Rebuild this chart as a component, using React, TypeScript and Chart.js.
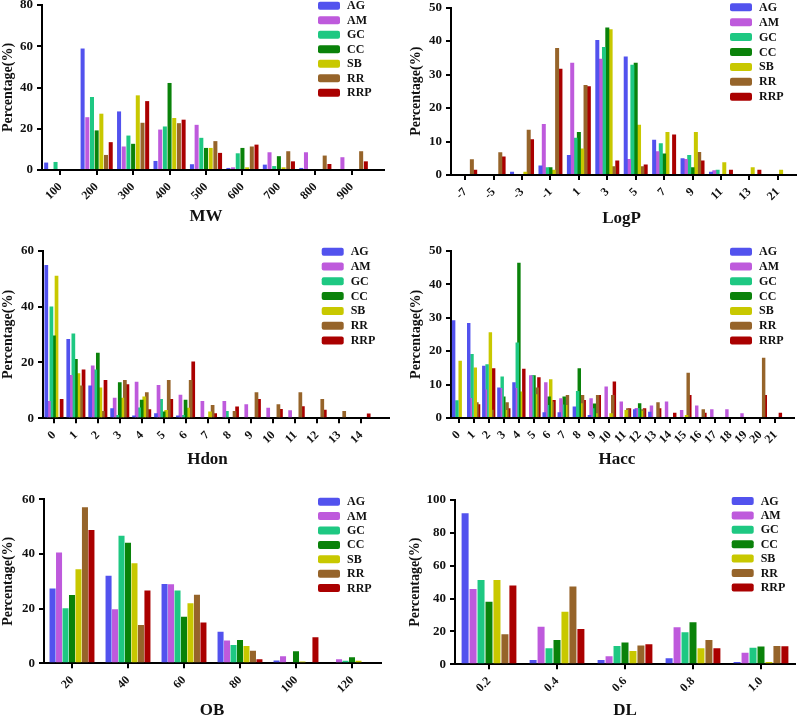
import React, { useEffect, useRef } from 'react';
import { Chart, registerables } from 'chart.js';

Chart.register(...registerables);

// ---------- Data ----------
const seriesNames = ['AG', 'AM', 'GC', 'CC', 'SB', 'RR', 'RRP'];
const seriesColors = ['#5252EE', '#BE5ADC', '#1EC882', '#0A820A', '#C8C800', '#96642A', '#AA0000'];

const mwLabels = ['100', '200', '300', '400', '500', '600', '700', '800', '900'];
const mwValues: number[][] = [
  /* AG  */ [3.6, 58.9, 28.4, 4.4, 2.8, 1.0, 2.6, 1.0, 0],
  /* AM  */ [0, 25.6, 11.4, 19.6, 21.9, 1.3, 8.6, 8.6, 6.2],
  /* GC  */ [3.9, 35.4, 16.7, 21.1, 15.6, 8.1, 1.9, 0, 0],
  /* CC  */ [0, 19.2, 12.7, 42.2, 10.7, 10.7, 6.7, 0, 0],
  /* SB  */ [0, 27.3, 36.2, 25.2, 10.7, 1.3, 1.3, 0, 0],
  /* RR  */ [0, 7.3, 22.9, 22.7, 14.0, 11.4, 9.1, 7.0, 9.1],
  /* RRP */ [0, 13.5, 33.4, 24.4, 8.3, 12.3, 4.2, 2.9, 4.2],
];

const logpLabels = ['-7', '-5', '-3', '-1', '1', '3', '5', '7', '9', '11', '13', '21'];
const logpValues: number[][] = [
  /* AG  */ [0, 0, 1.0, 2.8, 6.0, 40.3, 35.4, 10.5, 5.0, 1.0, 0, 0],
  /* AM  */ [0, 0, 0, 15.2, 33.5, 34.7, 4.8, 7.1, 4.8, 1.4, 0, 0],
  /* GC  */ [0, 0, 0, 2.3, 11.1, 38.2, 32.9, 9.5, 6.0, 1.6, 0, 0],
  /* CC  */ [0, 0, 0, 2.3, 12.8, 44.0, 33.5, 6.4, 2.3, 0, 0, 0],
  /* SB  */ [0, 0, 1.0, 1.6, 7.9, 43.5, 15.0, 12.8, 12.8, 3.8, 2.3, 1.6],
  /* RR  */ [4.7, 6.8, 13.5, 37.9, 26.9, 2.6, 2.6, 0, 6.9, 0, 0, 0],
  /* RRP */ [1.6, 5.5, 10.7, 31.7, 26.5, 4.3, 3.1, 12.1, 4.3, 1.6, 1.6, 0],
];

const hdonLabels = ['0', '1', '2', '3', '4', '5', '6', '7', '8', '9', '10', '11', '12', '13', '14'];
const hdonValues: number[][] = [
  /* AG  */ [54.9, 28.4, 11.7, 3.6, 1.0, 1.8, 1.0, 0, 0, 0, 0, 0, 0, 0, 0],
  /* AM  */ [6.2, 15.5, 18.9, 7.4, 13.1, 11.9, 8.4, 6.2, 6.2, 5.0, 3.8, 2.9, 0, 0, 0],
  /* GC  */ [40.0, 30.4, 17.5, 1.2, 3.9, 6.9, 1.2, 0, 2.6, 0, 0, 0, 0, 0, 0],
  /* CC  */ [29.6, 21.2, 23.5, 12.9, 6.6, 2.4, 6.6, 0, 0, 0, 0, 0, 0, 0, 0],
  /* SB  */ [51.0, 16.1, 11.0, 7.4, 7.8, 3.0, 3.8, 2.4, 0, 0, 0, 0, 0, 0, 0],
  /* RR  */ [0, 11.7, 2.6, 13.7, 9.3, 13.7, 13.7, 4.8, 2.6, 9.3, 5.0, 9.3, 6.9, 2.6, 0],
  /* RRP */ [6.9, 17.5, 13.7, 12.2, 3.2, 6.9, 20.3, 1.8, 4.2, 6.9, 3.3, 4.3, 3.1, 0, 1.7],
];

const haccLabels = ['0', '1', '2', '3', '4', '5', '6', '7', '8', '9', '10', '11', '12', '13', '14', '15', '16', '17', '18', '19', '20', '21'];
const haccValues: number[][] = [
  /* AG  */ [29.2, 28.4, 15.6, 9.1, 10.7, 0, 1.7, 1.7, 3.4, 0.9, 0, 0, 2.6, 1.9, 0, 0, 0, 0, 0, 0, 0, 0],
  /* AM  */ [0, 6.0, 8.5, 9.0, 9.0, 12.8, 10.7, 5.9, 0, 5.9, 9.4, 4.9, 3.0, 3.7, 4.9, 2.4, 3.7, 2.6, 2.6, 1.4, 0, 0],
  /* GC  */ [5.3, 19.1, 16.1, 12.4, 22.6, 12.8, 3.9, 4.0, 8.1, 2.9, 0, 0, 3.0, 0, 0, 0, 0, 0, 0, 0, 0, 0],
  /* CC  */ [0, 0, 0, 6.4, 46.4, 12.8, 6.4, 6.4, 14.9, 4.3, 0, 0, 4.4, 0, 0, 0, 0, 0, 0, 0, 0, 0],
  /* SB  */ [17.1, 15.1, 25.6, 2.4, 7.9, 7.1, 11.6, 3.9, 4.4, 1.4, 1.4, 2.4, 2.2, 0, 0, 0.9, 0, 0, 0, 0, 0, 0],
  /* RR  */ [0, 4.7, 2.5, 4.7, 0, 9.1, 4.9, 6.9, 6.9, 6.9, 6.9, 2.9, 2.6, 4.7, 0, 13.5, 2.6, 0, 0, 0, 18.0, 0],
  /* RRP */ [0, 4.1, 14.9, 2.9, 14.7, 12.2, 5.4, 0, 5.4, 6.9, 10.9, 2.9, 2.9, 2.9, 1.6, 6.9, 1.6, 0, 0, 0, 6.9, 1.6],
];

const obLabels = ['20', '40', '60', '80', '100', '120'];
const obValues: number[][] = [
  /* AG  */ [27.4, 32.0, 29.0, 11.5, 1.0, 0],
  /* AM  */ [40.5, 19.8, 28.9, 8.3, 2.6, 1.5],
  /* GC  */ [20.1, 46.7, 26.6, 6.7, 0, 0.9],
  /* CC  */ [25.0, 44.1, 17.0, 8.5, 4.4, 2.2],
  /* SB  */ [34.4, 36.6, 22.0, 6.3, 0.7, 0.9],
  /* RR  */ [57.1, 14.0, 25.1, 4.6, 0, 0],
  /* RRP */ [48.8, 26.6, 14.9, 1.5, 9.5, 0],
];

const dlLabels = ['0.2', '0.4', '0.6', '0.8', '1.0'];
const dlValues: number[][] = [
  /* AG  */ [91.9, 2.6, 2.6, 3.7, 1.4],
  /* AM  */ [45.8, 22.9, 4.9, 22.5, 7.1],
  /* GC  */ [51.3, 9.7, 11.2, 19.5, 10.1],
  /* CC  */ [38.1, 14.8, 13.2, 25.6, 10.8],
  /* SB  */ [51.3, 32.0, 8.1, 9.7, 1.4],
  /* RR  */ [18.3, 47.3, 11.4, 14.8, 11.2],
  /* RRP */ [47.9, 21.5, 12.2, 9.7, 11.0],
];

// ---------- Layout (page coordinates) ----------
type PanelCfg = {
  title: string; labels: string[]; values: number[][]; yMax: number; yStep: number;
  cx: number; cy: number; L: number; R: number; T: number; B: number;
  axisEnd: number; yTitleX: number; xTitleY: number;
  legendX: number; legendY: number; legendGap: number;
  cp: number; bp: number;
};

const panels: PanelCfg[] = [
  { title: 'MW', labels: mwLabels, values: mwValues, yMax: 80, yStep: 20,
    cx: 0, cy: 0, L: 42, R: 370, T: 5, B: 170, axisEnd: 385, yTitleX: 7.5, xTitleY: 217,
    legendX: 318, legendY: 5.7, legendGap: 14.5, cp: 0.9, bp: 0.86 },
  { title: 'LogP', labels: logpLabels, values: logpValues, yMax: 50, yStep: 10,
    cx: 400, cy: 0, L: 451, R: 792, T: 7.5, B: 175, axisEnd: 797, yTitleX: 416, xTitleY: 218.3,
    legendX: 730, legendY: 7.3, legendGap: 14.9, cp: 0.82, bp: 1.2 },
  { title: 'Hdon', labels: hdonLabels, values: hdonValues, yMax: 60, yStep: 20,
    cx: 0, cy: 238, L: 43, R: 372, T: 250.7, B: 418.3, axisEnd: 390, yTitleX: 7.5, xTitleY: 460,
    legendX: 321.7, legendY: 251.7, legendGap: 14.8, cp: 0.815, bp: 1.45 },
  { title: 'Hacc', labels: haccLabels, values: haccValues, yMax: 50, yStep: 10,
    cx: 400, cy: 238, L: 451, R: 783, T: 250.7, B: 418, axisEnd: 795, yTitleX: 416, xTitleY: 460,
    legendX: 730, legendY: 251.7, legendGap: 14.8, cp: 0.76, bp: 2.1 },
  { title: 'OB', labels: obLabels, values: obValues, yMax: 60, yStep: 20,
    cx: 0, cy: 478, L: 44, R: 380, T: 499.3, B: 663.3, axisEnd: 382, yTitleX: 7, xTitleY: 710.7,
    legendX: 318, legendY: 501.7, legendGap: 14.4, cp: 0.81, bp: 0.93 },
  { title: 'DL', labels: dlLabels, values: dlValues, yMax: 100, yStep: 20,
    cx: 400, cy: 478, L: 455, R: 795, T: 500, B: 664.3, axisEnd: 795, yTitleX: 415, xTitleY: 710.7,
    legendX: 731.7, legendY: 501, legendGap: 14.4, cp: 0.82, bp: 0.88 },
];

const FONT = "'Liberation Serif', 'Times New Roman', serif";
const Y_TITLE_SIZE = 14;
const X_TITLE_SIZE = 17;
const PANEL_W = 400;

function BarPanel({ cfg }: { cfg: PanelCfg }) {
  const ref = useRef<HTMLCanvasElement | null>(null);
  const yLH = Y_TITLE_SIZE * 1.2;
  const xLH = X_TITLE_SIZE * 1.2;
  const padLeft = Math.max(0, cfg.yTitleX - yLH / 2 - cfg.cx);
  const yWidth = cfg.L - cfg.cx - padLeft;
  const padTop = cfg.T - cfg.cy;
  const padRight = cfg.cx + PANEL_W - cfg.R;
  const h = Math.round(cfg.xTitleY - cfg.cy + xLH / 2);
  const xHeight = h - (cfg.B - cfg.cy);

  useEffect(() => {
    if (!ref.current) return;
    const legendPlugin = {
      id: 'customLegend',
      afterDraw(chart: any) {
        const ctx = chart.ctx;
        ctx.save();
        seriesNames.forEach((name, i) => {
          const y = cfg.legendY - cfg.cy + i * cfg.legendGap;
          const x = cfg.legendX - cfg.cx;
          ctx.fillStyle = seriesColors[i];
          ctx.beginPath();
          if (ctx.roundRect) ctx.roundRect(x, y - 4, 22, 8, 2);
          else ctx.rect(x, y - 4, 22, 8);
          ctx.fill();
          ctx.fillStyle = '#111';
          ctx.font = `bold 12px ${FONT}`;
          ctx.textAlign = 'left';
          ctx.textBaseline = 'middle';
          ctx.fillText(name, x + 29, y + 0.5);
        });
        // extend the x axis line like the original
        const area = chart.chartArea;
        const end = cfg.axisEnd - cfg.cx;
        if (end > area.right) {
          const yy = Math.round(area.bottom - 1) + 1;
          ctx.strokeStyle = '#000';
          ctx.lineWidth = 2;
          ctx.beginPath();
          ctx.moveTo(area.right - 1, yy);
          ctx.lineTo(end, yy);
          ctx.stroke();
        }
        ctx.restore();
      },
    };

    const chart = new Chart(ref.current, {
      type: 'bar',
      data: {
        labels: cfg.labels,
        datasets: seriesNames.map((name, i) => ({
          label: name,
          data: cfg.values[i],
          backgroundColor: seriesColors[i],
          borderWidth: 0,
          categoryPercentage: cfg.cp,
          barPercentage: cfg.bp,
        })),
      },
      options: {
        animation: false,
        responsive: false,
        devicePixelRatio: 1,
        layout: { padding: { left: padLeft, top: padTop, right: padRight, bottom: 0 } },
        plugins: { legend: { display: false }, tooltip: { enabled: false }, title: { display: false } },
        scales: {
          x: {
            type: 'category',
            offset: true,
            grid: { display: true, offset: false, drawOnChartArea: false, drawTicks: true, tickLength: 5, color: '#000', lineWidth: 2 },
            border: { display: true, color: '#000', width: 2 },
            ticks: { minRotation: 45, maxRotation: 45, autoSkip: false, color: '#111', padding: 5,
              font: { family: FONT, size: 12, weight: 'bold' } },
            title: { display: true, text: cfg.title, color: '#111', padding: 0,
              font: { family: FONT, size: X_TITLE_SIZE, weight: 'bold' } },
            afterFit: (s: any) => { s.height = xHeight; s.paddingLeft = 0; s.paddingRight = 0; },
          },
          y: {
            min: 0, max: cfg.yMax,
            grid: { display: true, drawOnChartArea: false, drawTicks: true, tickLength: 5, color: '#000', lineWidth: 2 },
            border: { display: true, color: '#000', width: 2 },
            ticks: { stepSize: cfg.yStep, color: '#111', padding: 4,
              font: { family: FONT, size: 13, weight: 'bold' } },
            title: { display: true, text: 'Percentage(%)', color: '#111', padding: 0,
              font: { family: FONT, size: Y_TITLE_SIZE, weight: 'bold' } },
            afterFit: (s: any) => { s.width = yWidth; s.paddingTop = 0; s.paddingBottom = 0; },
          },
        },
      } as any,
      plugins: [legendPlugin],
    });
    return () => chart.destroy();
  }, []);

  return (
    <canvas
      ref={ref}
      width={PANEL_W}
      height={h}
      style={{ position: 'absolute', left: cfg.cx, top: cfg.cy, width: PANEL_W, height: h }}
    />
  );
}

export default function App() {
  return (
    <div style={{ position: 'absolute', left: 0, top: 0, width: 800, height: 718, overflow: 'hidden', background: '#fff' }}>
      {panels.map((p) => (
        <BarPanel key={p.title} cfg={p} />
      ))}
    </div>
  );
}
